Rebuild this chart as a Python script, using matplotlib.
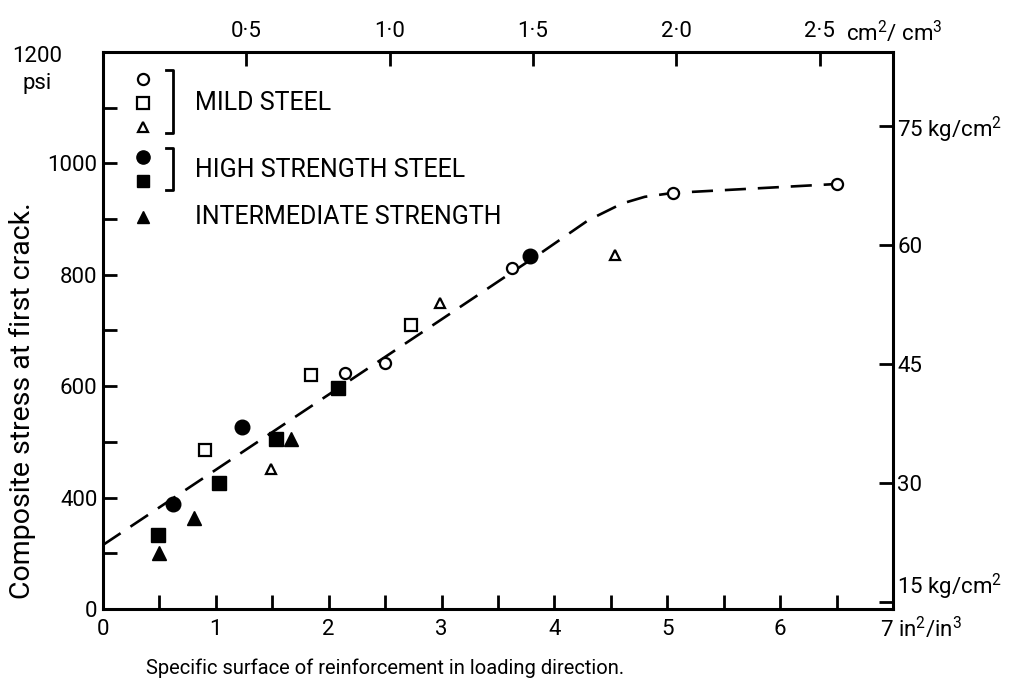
import matplotlib.pyplot as plt
import numpy as np

plt.rcParams['font.family'] = ['Roboto', 'DejaVu Sans']
plt.rcParams['mathtext.fontset'] = 'custom'
plt.rcParams['mathtext.rm'] = 'Roboto'
plt.rcParams['mathtext.it'] = 'Roboto'

# mild steel (open markers)
mild_circle_x = [2.14, 2.50, 3.62, 5.05, 6.50]
mild_circle_y = [624, 641, 813, 947, 963]
mild_square_x = [0.90, 1.84, 2.73]
mild_square_y = [485, 620, 710]
mild_tri_x = [1.49, 2.99, 4.54]
mild_tri_y = [451, 749, 836]

# high strength steel (filled)
high_circle_x = [0.62, 1.23, 3.78]
high_circle_y = [388, 526, 834]
high_square_x = [0.49, 1.03, 1.53, 2.08]
high_square_y = [333, 426, 506, 596]

# intermediate strength (filled triangles)
inter_tri_x = [0.50, 0.81, 1.67]
inter_tri_y = [301, 363, 505]

# dashed trend curve
curve_x = [0.0, 1.0, 2.0, 3.0, 3.9, 4.3, 4.6, 4.8, 5.05, 6.5]
curve_y = [315, 450, 585, 720, 842, 898, 928, 940, 947, 963]

x_ticks = [0, 1, 2, 3, 4, 5, 6, 7]
x_labels = ['0', '1', '2', '3', '4', '5', '6', '']
y_ticks = [200, 400, 600, 800, 1000]
y_labels = ['0', '400', '600', '800', '1000']
top_ticks = [0.5, 1.0, 1.5, 2.0, 2.5]
top_labels = ['0·5', '1·0', '1·5', '2·0', '2·5']
right_ticks = [15, 30, 45, 60, 75]
right_labels = ['15 kg/cm$^2$', '30', '45', '60', '75 kg/cm$^2$']

W, H = 1027, 686
fig = plt.figure(figsize=(W / 100, H / 100), dpi=100)
ax = fig.add_axes([103/W, 1-609/H, 790/W, 557/H])

ax.plot(curve_x, curve_y, color='black', lw=1.9, dashes=(8, 4.5), zorder=1)

mew = 1.6
ax.plot(mild_circle_x, mild_circle_y, 'o', ms=8, mfc='white', mec='black', mew=mew, ls='none', zorder=3)
ax.plot(mild_square_x, mild_square_y, 's', ms=9, mfc='white', mec='black', mew=mew, ls='none', zorder=3)
ax.plot(mild_tri_x, mild_tri_y, '^', ms=7.5, mfc='white', mec='black', mew=mew, ls='none', zorder=3)
ax.plot(high_circle_x, high_circle_y, 'o', ms=10.5, color='black', ls='none', zorder=3)
ax.plot(high_square_x, high_square_y, 's', ms=9.5, color='black', ls='none', zorder=3)
ax.plot(inter_tri_x, inter_tri_y, '^', ms=10, color='black', ls='none', zorder=3)

ax.set_xlim(0, 7)
ax.set_ylim(200, 1200)

fs = 16
ax.set_xticks(x_ticks)
ax.set_xticklabels(x_labels)
ax.set_xticks(np.arange(0.5, 7, 1), minor=True)
ax.set_yticks(y_ticks)
ax.set_yticklabels(y_labels)
ax.set_yticks([300, 500, 700, 900, 1100], minor=True)
ax.tick_params(which='both', direction='in', length=10, width=2, labelsize=fs)
ax.tick_params(axis='x', pad=7)
ax.tick_params(axis='y', pad=4)
for s in ax.spines.values():
    s.set_linewidth(2.2)

fig.text(37/W, 1-57/H, '1200', ha='center', va='center', fontsize=fs)
fig.text(37/W, 1-84/H, 'psi', ha='center', va='center', fontsize=fs)
ax.text((880-103)/790, -(629-609)/557, '7 in$^2$/in$^3$', transform=ax.transAxes,
        ha='left', va='center', fontsize=fs)

top = ax.secondary_xaxis('top', functions=(lambda x: x / 2.54, lambda x: x * 2.54))
top.set_xticks(top_ticks)
top.set_xticklabels(top_labels)
top.tick_params(direction='in', length=10, width=2, labelsize=fs, pad=7)
ax.text((846-103)/790, (609-33)/557, 'cm$^2$/ cm$^3$', transform=ax.transAxes,
        ha='left', va='center', fontsize=fs)

right = ax.secondary_yaxis('right', functions=(lambda y: y / 14.223, lambda y: y * 14.223))
right.set_yticks(right_ticks)
right.set_yticklabels(right_labels)
right.tick_params(direction='in', length=10, width=2, labelsize=fs, pad=3)
right.yaxis.get_majorticklabels()[0].set_verticalalignment('bottom')

# legend drawn by hand
lx = 0.0506
leg_kw = dict(transform=ax.transAxes, clip_on=False, ls='none', zorder=4)
ax.plot(lx, 0.9515, 'o', ms=8, mfc='white', mec='black', mew=mew, **leg_kw)
ax.plot(lx, 0.908, 's', ms=8, mfc='white', mec='black', mew=mew, **leg_kw)
ax.plot(lx, 0.865, '^', ms=7, mfc='white', mec='black', mew=mew, **leg_kw)
ax.plot(lx, 0.8115, 'o', ms=9.5, color='black', **leg_kw)
ax.plot(lx, 0.768, 's', ms=9, color='black', **leg_kw)
ax.plot(lx, 0.704, '^', ms=8.5, color='black', **leg_kw)

bx = 0.0886
for y0, y1 in [(0.8546, 0.9677), (0.752, 0.8276)]:
    ax.plot([bx - 0.009, bx, bx, bx - 0.009], [y0, y0, y1, y1], color='black', lw=2,
            transform=ax.transAxes)

tx = 0.1165
lfs = 18
ax.text(tx, 0.908, 'MILD STEEL', transform=ax.transAxes, va='center', fontsize=lfs)
ax.text(tx, 0.788, 'HIGH STRENGTH STEEL', transform=ax.transAxes, va='center', fontsize=lfs)
ax.text(tx, 0.704, 'INTERMEDIATE STRENGTH', transform=ax.transAxes, va='center', fontsize=lfs)

fig.text(22/W, 1-401/H, 'Composite stress at first crack.', rotation=90,
         ha='center', va='center', fontsize=20.5)
fig.text(385/W, 1-668/H, 'Specific surface of reinforcement in loading direction.',
         ha='center', va='center', fontsize=14.5)

fig.savefig('out.png', dpi=100)
